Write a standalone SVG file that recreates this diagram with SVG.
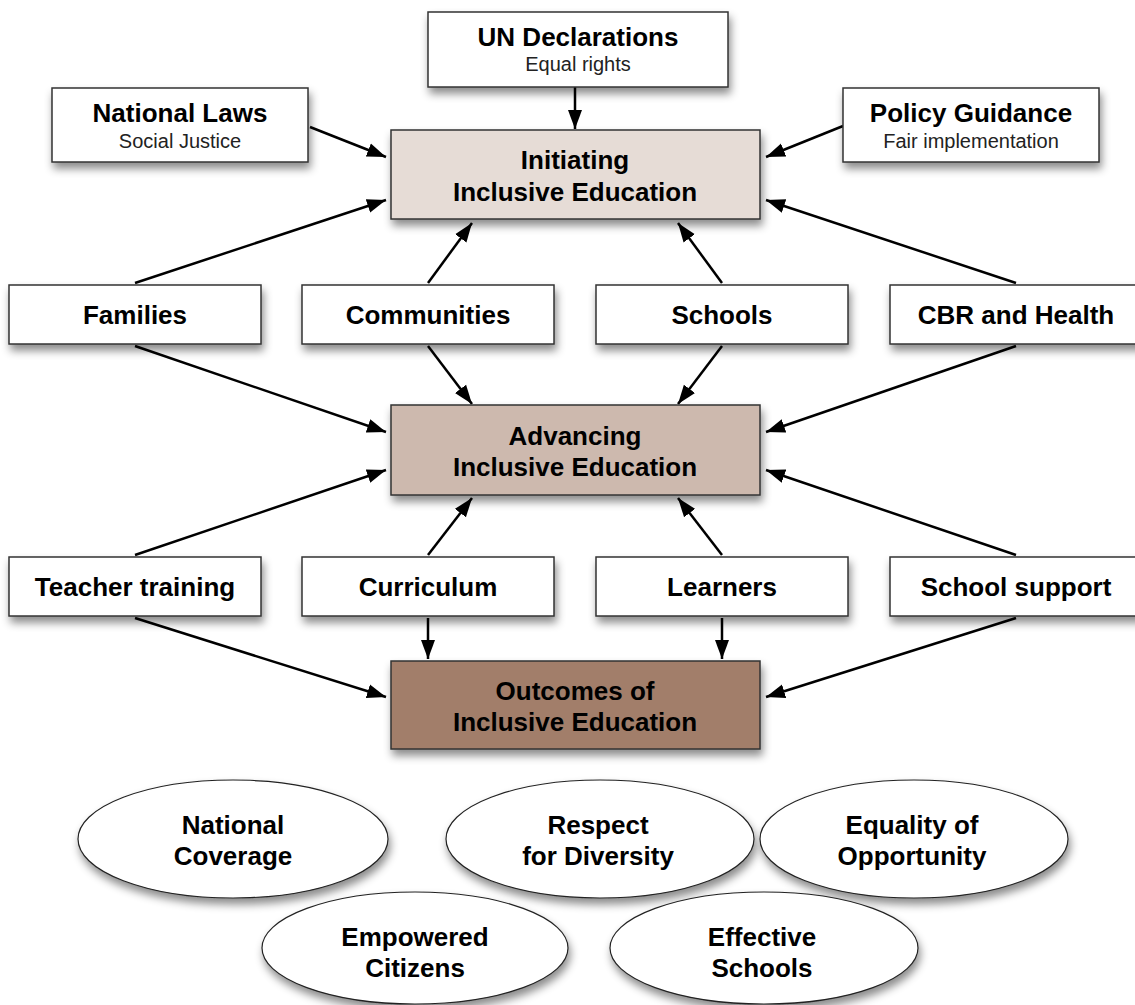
<svg xmlns="http://www.w3.org/2000/svg" width="1135" height="1005" viewBox="0 0 1135 1005">
<defs>
<filter id="sh" x="-20%" y="-30%" width="150%" height="180%">
<feDropShadow dx="2" dy="6" stdDeviation="4" flood-color="#000" flood-opacity="0.45"/>
</filter>
<marker id="ah" markerWidth="20" markerHeight="16" refX="19" refY="7" orient="auto" markerUnits="userSpaceOnUse" viewBox="0 0 20 14">
<path d="M0,0 L19,7 L0,14 Z" fill="#000"/>
</marker>
<style>
.box{fill:#fff;stroke:#333;stroke-width:1.5;filter:url(#sh)}
.ell{fill:#fff;stroke:#222;stroke-width:1.2;filter:url(#sh)}
.t{font-family:"Liberation Sans",Arial,sans-serif;font-weight:bold;font-size:26px;fill:#000;text-anchor:middle}
.s{font-family:"Liberation Sans",Arial,sans-serif;font-size:20px;fill:#222;text-anchor:middle}
.c line{stroke:#000;stroke-width:2.5;marker-end:url(#ah)}
</style>
</defs>
<rect width="1135" height="1005" fill="#fff"/>

<g class="c" id="connectors">
<line x1="575" y1="87" x2="575" y2="129"/>
<line x1="310" y1="127" x2="386" y2="157"/>
<line x1="843" y1="126" x2="766" y2="157"/>
<line x1="135" y1="283" x2="386" y2="200"/>
<line x1="428" y1="283" x2="472" y2="223"/>
<line x1="722" y1="283" x2="678" y2="223"/>
<line x1="1016" y1="283" x2="766" y2="200"/>
<line x1="135" y1="346" x2="386" y2="432"/>
<line x1="428" y1="346" x2="472" y2="404"/>
<line x1="722" y1="346" x2="678" y2="404"/>
<line x1="1016" y1="346" x2="766" y2="432"/>
<line x1="135" y1="555" x2="386" y2="470"/>
<line x1="428" y1="555" x2="472" y2="498"/>
<line x1="722" y1="555" x2="678" y2="498"/>
<line x1="1016" y1="555" x2="766" y2="470"/>
<line x1="135" y1="618" x2="386" y2="697"/>
<line x1="428" y1="618" x2="428" y2="659"/>
<line x1="722" y1="618" x2="722" y2="659"/>
<line x1="1016" y1="618" x2="766" y2="697"/>
</g>

<g id="un"><rect class="box" x="428" y="12" width="300" height="75"/>
<text class="t" x="578" y="46">UN Declarations</text>
<text class="s" x="578" y="71">Equal rights</text></g>

<g id="laws"><rect class="box" x="52" y="88" width="256" height="74"/>
<text class="t" x="180" y="122">National Laws</text>
<text class="s" x="180" y="148">Social Justice</text></g>

<g id="policy"><rect class="box" x="843" y="88" width="256" height="74"/>
<text class="t" x="971" y="122">Policy Guidance</text>
<text class="s" x="971" y="148">Fair implementation</text></g>

<g id="initiating"><rect class="box" x="391" y="130" width="369" height="89" style="fill:#e6dcd6"/>
<text class="t" x="575" y="169">Initiating</text>
<text class="t" x="575" y="201">Inclusive Education</text></g>

<g id="families"><rect class="box" x="9" y="285" width="252" height="59"/>
<text class="t" x="135" y="324">Families</text></g>
<g id="communities"><rect class="box" x="302" y="285" width="252" height="59"/>
<text class="t" x="428" y="324">Communities</text></g>
<g id="schools"><rect class="box" x="596" y="285" width="252" height="59"/>
<text class="t" x="722" y="324">Schools</text></g>
<g id="cbr"><rect class="box" x="890" y="285" width="252" height="59"/>
<text class="t" x="1016" y="324">CBR and Health</text></g>

<g id="advancing"><rect class="box" x="391" y="405" width="369" height="90" style="fill:#cdb9ae"/>
<text class="t" x="575" y="445">Advancing</text>
<text class="t" x="575" y="476">Inclusive Education</text></g>

<g id="teacher"><rect class="box" x="9" y="557" width="252" height="59"/>
<text class="t" x="135" y="596">Teacher training</text></g>
<g id="curriculum"><rect class="box" x="302" y="557" width="252" height="59"/>
<text class="t" x="428" y="596">Curriculum</text></g>
<g id="learners"><rect class="box" x="596" y="557" width="252" height="59"/>
<text class="t" x="722" y="596">Learners</text></g>
<g id="support"><rect class="box" x="890" y="557" width="252" height="59"/>
<text class="t" x="1016" y="596">School support</text></g>

<g id="outcomes"><rect class="box" x="391" y="661" width="369" height="88" style="fill:#a27e6b"/>
<text class="t" x="575" y="700">Outcomes of</text>
<text class="t" x="575" y="731">Inclusive Education</text></g>

<g id="coverage"><ellipse class="ell" cx="233" cy="839" rx="155" ry="59"/>
<text class="t" x="233" y="834">National</text>
<text class="t" x="233" y="865">Coverage</text></g>
<g id="respect"><ellipse class="ell" cx="600" cy="839" rx="154" ry="59"/>
<text class="t" x="598" y="834">Respect</text>
<text class="t" x="598" y="865">for Diversity</text></g>
<g id="equality"><ellipse class="ell" cx="914" cy="839" rx="154" ry="59"/>
<text class="t" x="912" y="834">Equality of</text>
<text class="t" x="912" y="865">Opportunity</text></g>
<g id="empowered"><ellipse class="ell" cx="415" cy="948" rx="153" ry="56"/>
<text class="t" x="415" y="946">Empowered</text>
<text class="t" x="415" y="977">Citizens</text></g>
<g id="effective"><ellipse class="ell" cx="764" cy="948" rx="154" ry="56"/>
<text class="t" x="762" y="946">Effective</text>
<text class="t" x="762" y="977">Schools</text></g>
</svg>
